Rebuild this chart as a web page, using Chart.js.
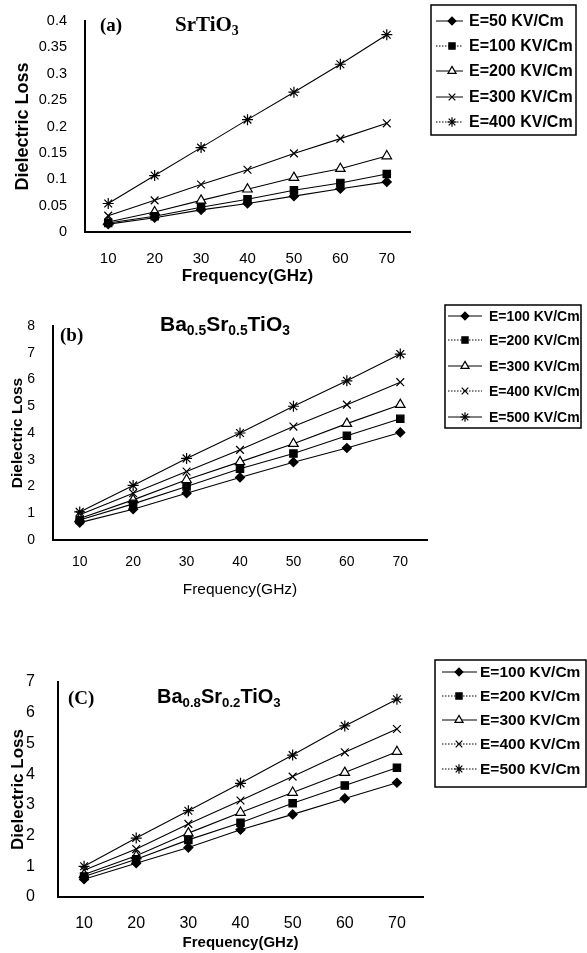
<!DOCTYPE html>
<html>
<head>
<meta charset="utf-8">
<script src="https://cdn.jsdelivr.net/npm/chart.js@4/dist/chart.umd.min.js"></script>
<style>
  html, body { margin:0; padding:0; background:#fff; }
  body { width:587px; height:953px; position:relative; overflow:hidden; }
  canvas { position:absolute; left:0; }
  .lbl { position:absolute; color:#000; white-space:nowrap; line-height:1; }
  .serif { font-family:"Liberation Serif","Times New Roman",serif; font-weight:bold; }
  .sans { font-family:"Liberation Sans",Arial,sans-serif; font-weight:bold; }
  .sub { font-size:0.66em; position:relative; top:0.3em; }
</style>
</head>
<body>
<canvas id="cA" width="587" height="300" style="top:0px"></canvas>
<canvas id="cB" width="587" height="310" style="top:300px"></canvas>
<canvas id="cC" width="587" height="316" style="top:640px"></canvas>

<div class="lbl serif" style="left:100px;top:15px;font-size:19px;">(a)</div>
<div class="lbl serif" style="left:175px;top:14px;font-size:21px;">SrTiO<span class="sub">3</span></div>

<div class="lbl serif" style="left:60px;top:325px;font-size:19px;">(b)</div>
<div class="lbl sans" style="left:160px;top:313px;font-size:21px;">Ba<span class="sub">0.5</span>Sr<span class="sub">0.5</span>TiO<span class="sub">3</span></div>

<div class="lbl serif" style="left:68px;top:688px;font-size:19px;">(C)</div>
<div class="lbl sans" style="left:157px;top:686px;font-size:20px;">Ba<span class="sub">0.8</span>Sr<span class="sub">0.2</span>TiO<span class="sub">3</span></div>

<script>
// ---------- data ----------
const freqLabels = ['10', '20', '30', '40', '50', '60', '70'];

// (a) SrTiO3
const seriesNamesA = ['E=50 KV/Cm', 'E=100 KV/Cm', 'E=200 KV/Cm', 'E=300 KV/Cm', 'E=400 KV/Cm'];
const lossA_E50  = [0.015, 0.027, 0.042, 0.054, 0.068, 0.082, 0.095];
const lossA_E100 = [0.017, 0.030, 0.047, 0.062, 0.079, 0.093, 0.110];
const lossA_E200 = [0.019, 0.038, 0.060, 0.081, 0.103, 0.120, 0.144];
const lossA_E300 = [0.031, 0.060, 0.090, 0.118, 0.149, 0.177, 0.206];
const lossA_E400 = [0.054, 0.107, 0.160, 0.213, 0.265, 0.318, 0.374];

// (b) Ba0.5Sr0.5TiO3
const seriesNamesB = ['E=100 KV/Cm', 'E=200 KV/Cm', 'E=300 KV/Cm', 'E=400 KV/Cm', 'E=500 KV/Cm'];
const lossB_E100 = [0.65, 1.15, 1.75, 2.34, 2.91, 3.44, 4.02];
const lossB_E200 = [0.75, 1.35, 2.00, 2.66, 3.23, 3.90, 4.53];
const lossB_E300 = [0.80, 1.50, 2.25, 2.92, 3.60, 4.35, 5.06];
const lossB_E400 = [0.94, 1.75, 2.56, 3.37, 4.24, 5.06, 5.90];
const lossB_E500 = [1.05, 2.04, 3.05, 4.00, 5.00, 5.95, 6.95];

// (c) Ba0.8Sr0.2TiO3
const seriesNamesC = ['E=100 KV/Cm', 'E=200 KV/Cm', 'E=300 KV/Cm', 'E=400 KV/Cm', 'E=500 KV/Cm'];
const lossC_E100 = [0.58, 1.10, 1.61, 2.19, 2.69, 3.21, 3.72];
const lossC_E200 = [0.67, 1.23, 1.86, 2.42, 3.05, 3.63, 4.21];
const lossC_E300 = [0.73, 1.34, 2.08, 2.75, 3.40, 4.05, 4.73];
const lossC_E400 = [0.87, 1.56, 2.38, 3.14, 3.92, 4.71, 5.47];
const lossC_E500 = [1.00, 1.92, 2.81, 3.70, 4.62, 5.57, 6.44];

// y tick ranges
const yRangeA = {min: 0, max: 0.4, step: 0.05};
const yRangeB = {min: 0, max: 8, step: 1};
const yRangeC = {min: 0, max: 7, step: 1};

// ---------- styling ----------
const FONT = '"Liberation Sans", Arial, sans-serif';
const markers = [
  {pointStyle: 'rectRot', radius: 4.5, fill: '#000'},
  {pointStyle: 'rect', radius: 5.2, fill: '#000'},
  {pointStyle: 'triangle', radius: 5.5, fill: '#fff'},
  {pointStyle: 'crossRot', radius: 5.5, fill: '#fff'},
  {pointStyle: 'star', radius: 5.5, fill: '#fff'}
];

function makeDatasets(names, arrays) {
  return names.map((n, i) => ({
    label: n,
    data: arrays[i],
    borderColor: '#000',
    borderWidth: 1.1,
    backgroundColor: markers[i].fill,
    pointStyle: markers[i].pointStyle,
    pointRadius: markers[i].radius,
    pointHoverRadius: markers[i].radius,
    pointBorderColor: '#000',
    pointBackgroundColor: markers[i].fill,
    pointBorderWidth: 1.2,
    tension: 0,
    fill: false
  }));
}

const boxLegend = {
  id: 'boxLegend',
  afterDraw(chart) {
    const L = chart.options.plugins.boxLegend;
    if (!L) return;
    const ctx = chart.ctx;
    ctx.save();
    ctx.strokeStyle = '#000';
    ctx.lineWidth = 1.5;
    ctx.strokeRect(L.box[0], L.box[1], L.box[2] - L.box[0], L.box[3] - L.box[1]);
    chart.data.datasets.forEach((ds, i) => {
      const y = L.rows[i];
      ctx.save();
      ctx.strokeStyle = '#000';
      ctx.lineWidth = 1;
      ctx.setLineDash(L.dash[i] ? [1.5, 1.5] : []);
      ctx.beginPath();
      ctx.moveTo(L.line[0], y);
      ctx.lineTo(L.line[1], y);
      ctx.stroke();
      ctx.restore();
      ctx.fillStyle = ds.pointBackgroundColor;
      ctx.strokeStyle = '#000';
      ctx.lineWidth = 1.2;
      Chart.helpers.drawPoint(ctx, {pointStyle: ds.pointStyle, radius: ds.pointRadius * 0.85, borderWidth: 1.2, rotation: 0}, L.pointX, y);
      ctx.fillStyle = '#000';
      ctx.font = 'bold ' + L.fontSize + 'px ' + FONT;
      ctx.textBaseline = 'middle';
      ctx.textAlign = 'left';
      ctx.fillText(ds.label, L.textX, y + 1);
    });
    ctx.restore();
  }
};

function makePanel(id, cfg) {
  return new Chart(document.getElementById(id), {
    type: 'line',
    data: { labels: freqLabels, datasets: makeDatasets(cfg.names, cfg.arrays) },
    plugins: [boxLegend],
    options: {
      responsive: false,
      animation: false,
      devicePixelRatio: 1,
      layout: { padding: { left: 0, top: cfg.area.top, right: 587 - cfg.area.right, bottom: 0 } },
      plugins: {
        legend: { display: false },
        tooltip: { enabled: false },
        boxLegend: cfg.legend
      },
      scales: {
        x: {
          type: 'category',
          offset: true,
          grid: { display: false },
          border: { display: true, color: '#000', width: 2 },
          ticks: { color: '#000', font: { family: FONT, size: cfg.xTickSize }, padding: cfg.xTickPad, maxRotation: 0 },
          title: { display: true, text: 'Frequency(GHz)', color: '#000',
                   font: { family: FONT, size: cfg.xTitleSize, weight: cfg.xTitleWeight },
                   padding: { top: 0, bottom: cfg.xTitlePadBottom } },
          afterFit: s => { s.height = cfg.xH; }
        },
        y: {
          min: cfg.yRange.min, max: cfg.yRange.max,
          grid: { display: false },
          border: { display: true, color: '#000', width: 2 },
          ticks: { stepSize: cfg.yRange.step, color: '#000', padding: cfg.yTickPad,
                   font: { family: FONT, size: cfg.yTickSize },
                   callback: v => String(+Number(v).toFixed(2)) },
          title: { display: true, text: 'Dielectric Loss', color: '#000',
                   font: { family: FONT, size: cfg.yTitleSize, weight: 'bold' },
                   padding: { top: cfg.yTitlePadTop, bottom: 0 } },
          afterFit: s => { s.width = cfg.area.left; }
        }
      }
    }
  });
}

makePanel('cA', {
  names: seriesNamesA,
  arrays: [lossA_E50, lossA_E100, lossA_E200, lossA_E300, lossA_E400],
  yRange: yRangeA,
  area: { left: 85, right: 410, top: 21 },
  xH: 68, xTickSize: 15, xTickPad: 10, xTitleSize: 17, xTitleWeight: 'bold', xTitlePadBottom: 13,
  yTickSize: 14.5, yTickPad: 10, yTitleSize: 18, yTitlePadTop: 12,
  legend: { box: [431, 5, 576, 135], rows: [21, 46, 71, 97, 122], line: [436, 463], pointX: 452, textX: 469,
            fontSize: 16, dash: [false, true, false, false, true] }
});

makePanel('cB', {
  names: seriesNamesB,
  arrays: [lossB_E100, lossB_E200, lossB_E300, lossB_E400, lossB_E500],
  yRange: yRangeB,
  area: { left: 53, right: 427, top: 26 },
  xH: 70, xTickSize: 14, xTickPad: 6, xTitleSize: 15.5, xTitleWeight: 'normal', xTitlePadBottom: 11,
  yTickSize: 14, yTickPad: 10, yTitleSize: 15.5, yTitlePadTop: 8,
  legend: { box: [445, 5, 581, 128], rows: [16, 40, 66, 91, 117], line: [448, 482], pointX: 465, textX: 489,
            fontSize: 14, dash: [false, true, false, true, false] }
});

makePanel('cC', {
  names: seriesNamesC,
  arrays: [lossC_E100, lossC_E200, lossC_E300, lossC_E400, lossC_E500],
  yRange: yRangeC,
  area: { left: 58, right: 423, top: 42 },
  xH: 59, xTickSize: 16, xTickPad: 9, xTitleSize: 15, xTitleWeight: 'bold', xTitlePadBottom: 4,
  yTickSize: 16, yTickPad: 15, yTitleSize: 17, yTitlePadTop: 8,
  legend: { box: [435, 20, 586, 147], rows: [32, 56, 80, 104, 129], line: [442, 477], pointX: 459, textX: 480,
            fontSize: 15.5, dash: [false, true, false, true, true] }
});
</script>
</body>
</html>
